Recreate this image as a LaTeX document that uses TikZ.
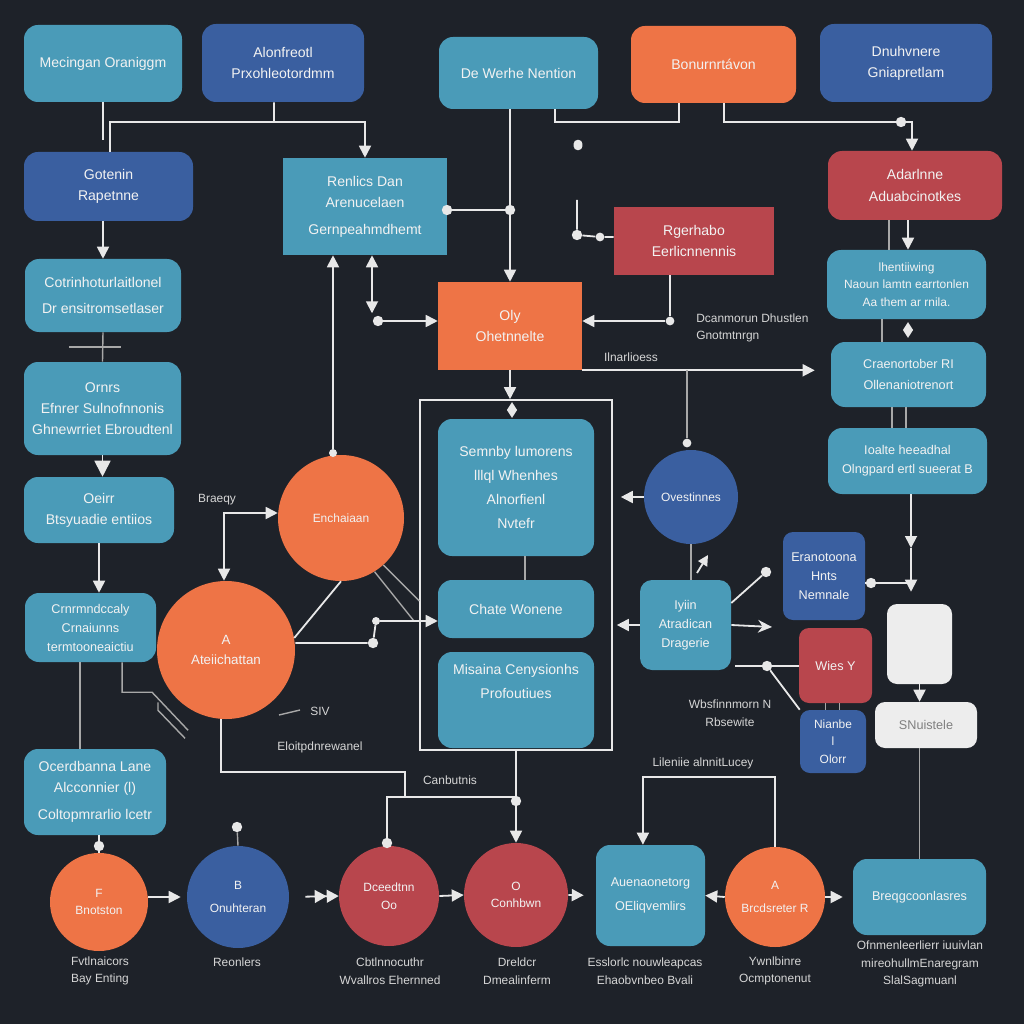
\documentclass[tikz,border=0pt]{standalone}
\usepackage{fontspec}
\setmainfont{Liberation Sans}
\usetikzlibrary{arrows.meta,shapes.geometric,calc}
\definecolor{bgc}{HTML}{1E2229}
\definecolor{tealc}{HTML}{4A9BB8}
\definecolor{bluec}{HTML}{3A5FA0}
\definecolor{orangec}{HTML}{EE7446}
\definecolor{redc}{HTML}{B8464D}
\definecolor{whitec}{HTML}{EDEDED}
\definecolor{linec}{HTML}{E8E8E8}
\definecolor{grayl}{HTML}{A8A8A8}
\definecolor{txtc}{HTML}{F2F2F2}
\definecolor{lblc}{HTML}{D6D6D6}
\newcommand\fnA{\fontsize{10}{15}\selectfont}
\newcommand\fnB{\fontsize{9}{13.5}\selectfont}
\newcommand\fnC{\fontsize{8.5}{12.5}\selectfont}
\begin{document}
\begin{tikzpicture}[x=0.25mm,y=-0.25mm,
  sz/.style 2 args={minimum width=#1*0.25mm, minimum height=#2*0.25mm},
  base/.style={inner sep=0pt, align=center, text=txtc, font=\fnA},
  tealbox/.style={base, fill=tealc, rounded corners=3.5mm},
  bluebox/.style={base, fill=bluec, rounded corners=3.5mm},
  orangebox/.style={base, fill=orangec, rounded corners=3.5mm},
  redbox/.style={base, fill=redc, rounded corners=3.5mm},
  whitebox/.style={base, fill=whitec, rounded corners=2.5mm},
  tealrect/.style={base, fill=tealc},
  redrect/.style={base, fill=redc},
  orangerect/.style={base, fill=orangec},
  circ/.style={base, circle, minimum size=#1*0.5mm, font=\fnC},
  ln/.style={draw=linec, line width=0.45mm},
  thinl/.style={draw=grayl, line width=0.35mm},
  arr/.style={ln, -{Triangle[length=3mm,width=3mm]}},
  bigarr/.style={ln, -{Triangle[length=4mm,width=4mm]}},
  dotn/.style={circle, fill=linec, inner sep=0pt, minimum size=2.6mm},
  dmd/.style={diamond, fill=linec, inner sep=0pt, minimum width=2.6mm, minimum height=4mm},
  lbl/.style={text=lblc, font=\fnC, align=center, inner sep=0pt},
]
\fill[bgc] (0,0) rectangle (1024,1024);
\useasboundingbox (0,0) rectangle (1024,1024);

% ---------- top row
\node[tealbox, sz={158}{77}] (b1) at (103,63.5) {Mecingan Oraniggm};
\node[bluebox, sz={162}{78}] (b2) at (283,63) {Alonfreotl\\Prxohleotordmm};
\node[tealbox, sz={159}{72}] (b3) at (518.5,73) {De Werhe Nention};
\node[orangebox, sz={165}{77}] (b4) at (713.5,64.5) {Bonurnrtávon};
\node[bluebox, sz={172}{78}] (b5) at (906,63) {Dnuhvnere\\Gniapretlam};

% ---------- left column
\node[bluebox, sz={169}{69}] (b6) at (108.5,186.5) {Gotenin\\Rapetnne};
\node[tealbox, sz={156}{73}] (b7) at (103,295.5) {Cotrinhoturlaitlonel\\[3pt]Dr ensitromsetlaser};
\node[tealbox, sz={157}{93}] (b8) at (102.5,408.5) {Ornrs\\Efnrer Sulnofnnonis\\Ghnewrriet Ebroudtenl};
\node[tealbox, sz={150}{66}] (b9) at (99,510) {Oeirr\\Btsyuadie entiios};
\node[tealbox, sz={131}{69}, font=\fnB] (b10) at (90.5,627.5) {Crnrmndccaly\\Crnaiunns\\termtooneaictiu};
\node[tealbox, sz={142}{86}] (b11) at (95,792) {Ocerdbanna Lane\\Alcconnier (l)\\[4pt]Coltopmrarlio lcetr};

% ---------- centre
\node[tealrect, sz={164}{97}] (b12) at (365,206.5) {Renlics Dan\\Arenucelaen\\[4pt]Gernpeahmdhemt};
\node[redrect, sz={160}{68}] (b13) at (694,241) {Rgerhabo\\Eerlicnnennis};
\node[orangerect, sz={144}{88}] (b14) at (510,326) {Oly\\Ohetnnelte};
\node[draw=linec, line width=0.4mm, inner sep=0pt, sz={192}{350}] (fr) at (516,575) {};
\node[tealbox, sz={156}{137}, font=\fontsize{10}{17}\selectfont] (b16) at (516,487.5) {Semnby lumorens\\lllql Whenhes\\Alnorfienl\\Nvtefr};
\node[tealbox, sz={156}{58}] (b17) at (516,609) {Chate Wonene};
\node[tealbox, sz={156}{96}] (b18) at (516,700) {};
\node[base, anchor=north, font=\fontsize{10}{17}\selectfont] (t18) at (516,664) {Misaina Cenysionhs\\Profoutiues};

\node[circ=63, fill=orangec] (c19) at (341,518) {Enchaiaan};
\node[circ=69, fill=orangec, font=\fontsize{9.5}{14}\selectfont] (c20) at (226,650) {A\\Ateiichattan};
\node[circ=47, fill=bluec] (c21) at (691,497) {Ovestinnes};

% ---------- right column
\node[redbox, sz={174}{69}] (b22) at (915,185.5) {Adarlnne\\Aduabcinotkes};
\node[tealbox, sz={159}{69}, font=\fnC] (b23) at (906.5,284.5) {lhentiiwing\\Naoun lamtn earrtonlen\\Aa them ar rnila.};
\node[tealbox, sz={155}{65}, font=\fnB] (b24) at (908.5,374.5) {Craenortober RI\\[2pt]Ollenaniotrenort};
\node[tealbox, sz={159}{66}, font=\fnB] (b25) at (907.5,461) {Ioalte heeadhal\\Olngpard ertl sueerat B};
\node[tealbox, sz={91}{90}, font=\fnB, rounded corners=3mm] (b26) at (685.5,625) {Iyiin\\Atradican\\Dragerie};
\node[bluebox, sz={82}{88}, font=\fnB, rounded corners=2.5mm] (b27) at (824,576) {Eranotoona\\Hnts\\Nemnale};
\node[redbox, sz={73}{75}, font=\fnB, rounded corners=2.5mm] (b28) at (835.5,665.5) {Wies Y};
\node[bluebox, sz={66}{63}, font=\fnC, rounded corners=2.5mm] (b29) at (833,741.5) {Nianbe\\l\\Olorr};
\node[whitebox, sz={65}{80}] (b30) at (919.5,644) {};
\node[whitebox, sz={102}{46}, text=gray, font=\fnB] (b31) at (926,725) {SNuistele};

% ---------- bottom row
\node[circ=49, fill=orangec] (c32) at (99,902) {F\\Bnotston};
\node[circ=51, fill=bluec] (c33) at (238,897) {B\\[4pt]Onuhteran};
\node[circ=50, fill=redc] (c34) at (389,896) {Dceedtnn\\Oo};
\node[circ=52, fill=redc] (c35) at (516,895) {O\\Conhbwn};
\node[tealbox, sz={109}{101}, font=\fnB] (b36) at (650.5,895.5) {Auenaonetorg\\[3pt]OEliqvemlirs};
\node[circ=50, fill=orangec] (c37) at (775,897) {A\\[4pt]Brcdsreter R};
\node[tealbox, sz={133}{76}, font=\fnB] (b38) at (919.5,897) {Breqgcoonlasres};

% ---------- labels
\node[lbl] (l32) at (100,971) {Fvtlnaicors\\Bay Enting};
\node[lbl] (l33) at (237,962) {Reonlers};
\node[lbl] (l34) at (390,971) {Cbtlnnocuthr\\Wvallros Ehernned};
\node[lbl] (l35) at (517,971) {Dreldcr\\Dmealinferm};
\node[lbl] (l36) at (645,971) {Esslorlc nouwleapcas\\Ehaobvnbeo Bvali};
\node[lbl] (l37) at (775,971) {Ywnlbinre\\Ocmptonenut};
\node[lbl] (l38) at (920,964) {Ofnmenleerlierr iuuivlan\\mireohullmEnaregram\\SlalSagmuanl};
\node[lbl] (l1) at (217,500) {Braeqy};
\node[lbl] (l2) at (320,711) {SIV};
\node[lbl] (l3) at (320,747) {Eloitpdnrewanel};
\node[lbl] (l4) at (450,780) {Canbutnis};
\node[lbl, align=left, anchor=west] (l5) at (696,328) {Dcanmorun Dhustlen\\Gnotmtnrgn};
\node[lbl] (l6) at (631,357) {Ilnarlioess};
\node[lbl] (l7) at (730,713) {Wbsfinnmorn N\\Rbsewite};
\node[lbl] (l8) at (703,763) {Lileniie alnnitLucey};

% ---------- connectors: top
\draw[ln] (b1.south) -- ++(0,38);
\coordinate (j2) at (274,122);
\draw[arr] ([xshift=-2.25mm]b2.south) -- (j2) -| (b12.north);
\draw[ln] (j2) -| ([xshift=0.4mm]b6.north);
\draw[ln] ([xshift=9.1mm]b3.south) -- ++(0,13) -| ([xshift=-8.6mm]b4.south);
\node[dotn] (d4) at (901,122) {};
\draw[ln] ([xshift=2.6mm]b4.south) |- (d4);
\draw[arr] (d4) -| ([xshift=-0.75mm]b22.north);
\draw[arr] (b3.south -| b14.north) -- (b14.north);
\node[fill=linec, inner sep=0pt, minimum width=2.2mm, minimum height=2.6mm, rounded corners=1mm] (dome) at (578,145) {};

% left column
\draw[arr] (b6.south -| b7.north) -- (b7.north);
\draw[thinl] (b7.south) -- coordinate (m78) (b8.north);
\draw[thinl] ([xshift=-8.5mm]m78) -- ([xshift=4.5mm]m78);
\draw[bigarr] (b8.south) -- (b8.south |- b9.north);
\draw[arr] (b9.south) -- (b9.south |- b10.north);
\draw[thinl] ([xshift=-2.6mm]b10.south) -- ([xshift=-2.6mm]b10.south |- b11.north);
\draw[thinl] ([xshift=7.9mm]b10.south) -- ++(0,30) -- ++(30,0) -- ++(36,38);
\draw[thinl] ([shift={(67.5,40)}]b10.south) -- ++(0,8) -- ++(27,28);
\node[dotn] (d11) at (99,846) {};
\draw[ln] (b11.south -| d11) -- (d11) -- (c32.north);

% bottom row
\draw[arr, shorten >=1.5mm] (c33.west -| c32.east) -- (c33.west);
\node[dotn] (d33) at (237,827) {};
\draw[thinl] (d33) -- (c33.north);
\draw[ln, shorten <=4mm, -{Triangle[length=3mm,width=3.2mm]Triangle[length=3mm,width=3.2mm]}] (c33.east) -- (c34.west);
\draw[arr] (c34.east) -- (c35.west);
\draw[arr, shorten >=3mm] (c35.east) -- (b36.west);
\draw[arr] (c37.west) -- (b36.east);
\draw[arr, shorten >=2.5mm] (c37.east) -- (b38.west);
\draw[arr] (c37.north) -- ++(0,-70) -| ([xshift=-1.9mm]b36.north);

% centre
\node[dotn, minimum size=2mm] (d19) at (333,453) {};
\draw[arr] (d19) -- (d19 |- b12.south);
\draw[ln, {Triangle[length=3mm,width=3mm]}-{Triangle[length=3mm,width=3mm]}] ([xshift=1.75mm]b12.south) -- ++(0,58);
\node[dotn] (d12) at (378,321) {};
\draw[arr] (d12) -- (d12 -| b14.west);
\node[dotn] (d12r) at (447,210) {};
\node[dotn] (d12e) at (510,210) {};
\draw[ln] (d12r) -- (d12e);
\node[dotn] (d13a) at (577,235) {};
\node[dotn, minimum size=2.2mm] (d13b) at (600,237) {};
\draw[ln] (b13.west |- d13b) -- (d13b) -- (d13a) -- ++(0,-35);
\node[dotn, minimum size=2.2mm] (d13c) at (670,321) {};
\draw[ln] (b13.south -| d13c) -- (d13c);
\draw[arr] (d13c) -- (d13c -| b14.east);
\draw[arr, shorten >=4mm] (b14.south east) -- (b14.south east -| b24.west);
\node[dotn, minimum size=2.2mm] (d21) at (687,443) {};
\draw[thinl] (b14.south east -| d21) -- (d21);
\draw[arr] (b14.south) -- (b14.south |- fr.north);
\node[dmd] (dm14) at (512,410) {};
\draw[thinl] ([xshift=2.25mm]b16.south) -- ([xshift=2.25mm]b16.south |- b17.north);

\draw[ln, {Triangle[length=3mm,width=3mm]}-{Triangle[length=3mm,width=3mm]}] ([yshift=1.25mm]c19.west) -| ([xshift=-0.5mm]c20.north);
\draw[ln] (c20.10) -- (c19.south);
\draw[thinl] (c19.-58) -- ++(40,50);
\draw[thinl] (c19.-48) -- ++(36,36);
\node[dotn] (d20a) at (373,643) {};
\node[dotn, minimum size=2mm] (d20b) at (376,621) {};
\draw[ln] (c20.east |- d20a) -- (d20a) -- (d20b);
\draw[arr] (d20b) -- (d20b -| b17.west);
\coordinate (j20) at (405,797);
\draw[ln] ([xshift=-1.25mm]c20.south) -- ++(0,53) -| (j20);
\coordinate (j41) at (516,797);
\node[dotn] (d34) at (387,843) {};
\draw[ln] (d34) |- (j41);
\draw[arr] (fr.south) -- (c35.north);
\node[dotn] (d35) at (516,801) {};
\coordinate (s1) at (279,715);
\coordinate (s2) at (300,710);
\draw[thinl] (s1) -- (s2);

% right middle
\draw[arr, shorten >=2mm] (c21.west) -- (c21.west -| fr.east);
\draw[thinl] (c21.south) -- (c21.south |- b26.north);
\coordinate (sa1) at (697,573);
\coordinate (sa2) at (708,555);
\draw[ln, -{Triangle[length=2.6mm,width=2.6mm]}] (sa1) -- (sa2);
\draw[arr, shorten >=1mm] (b26.west) -- (b26.west -| fr.east);
\node[dotn] (d26a) at (766,572) {};
\draw[ln] ([shift={(0,-22)}]b26.east) -- (d26a);
\coordinate (c26) at (772,627);
\draw[ln, -{Stealth[length=3.5mm,width=3.2mm]}] (b26.east) -- (c26);
\node[dotn] (d26b) at (767,666) {};
\draw[ln] ([xshift=1mm]b26.east |- d26b) -- (d26b) -- (d26b -| b28.west);
\draw[ln] (d26b) -- (b29.north west);
\draw[thinl] ([xshift=-2.5mm]b28.south) -- ([xshift=-2.5mm]b28.south |- b29.north);
\draw[thinl] ([xshift=1mm]b28.south) -- ([xshift=1mm]b28.south |- b29.north);

% right column
\draw[arr] ([xshift=-1.75mm]b22.south) -- ([xshift=-1.75mm]b22.south |- b23.north);
\draw[thinl] ([xshift=-6.5mm]b22.south) -- ([xshift=-6.5mm]b22.south |- b23.north);
\draw[thinl] ([xshift=-6.1mm]b23.south) -- ([xshift=-6.1mm]b23.south |- b24.north);
\node[dmd] (dm23) at (908,330) {};
\draw[thinl] ([xshift=-4.1mm]b24.south) -- ([xshift=-4.1mm]b24.south |- b25.north);
\draw[thinl] ([xshift=-0.6mm]b24.south) -- ([xshift=-0.6mm]b24.south |- b25.north);
\coordinate (k25) at (911,548);
\draw[arr] (b25.south -| k25) -- (k25);
\draw[arr, shorten >=3mm] (k25) -- (k25 |- b30.north);
\node[dotn] (d27) at (871,583) {};
\draw[ln] (b27.east |- d27) -- (d27) -- (d27 -| k25);
\draw[arr] (b30.south) -- (b30.south |- b31.north);
\draw[thinl] (b31.south -| b38.north) -- (b38.north);
\end{tikzpicture}
\end{document}
